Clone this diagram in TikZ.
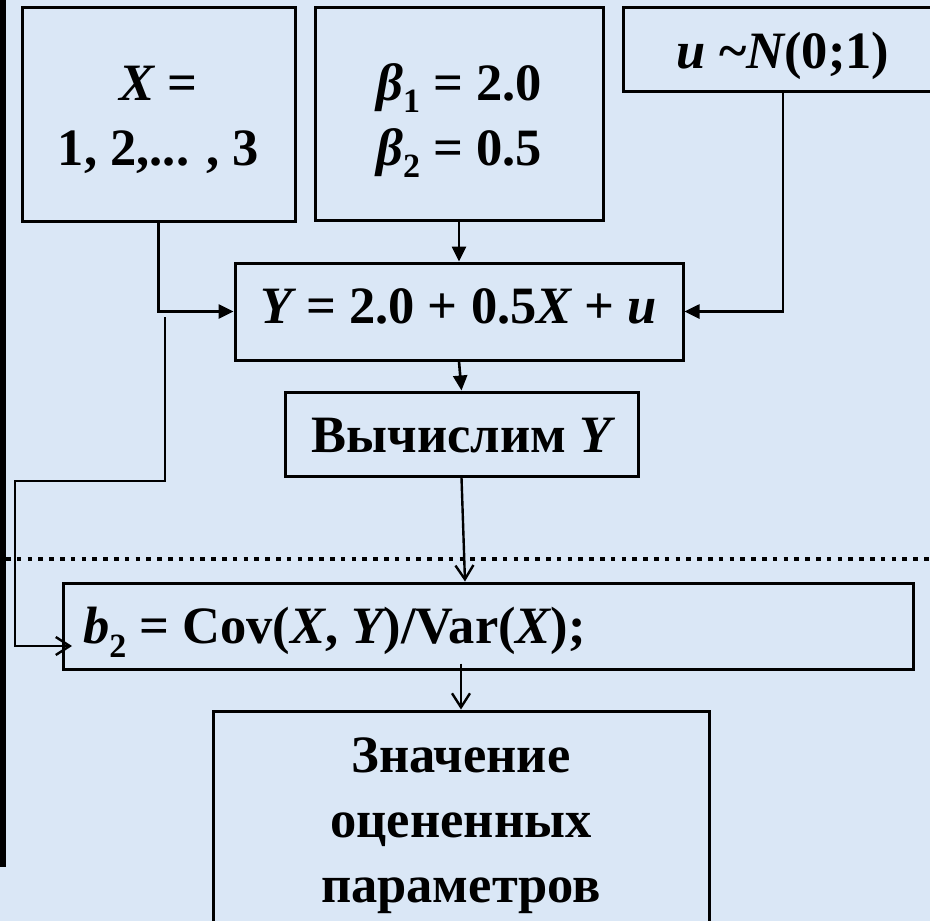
\documentclass[tikz,border=0pt]{standalone}
\usepackage{fontspec}
\setmainfont{Liberation Serif}
\usetikzlibrary{arrows.meta}
\definecolor{bgblue}{RGB}{218,231,246}
\newcommand\myit[1]{{\itshape #1}}
\newcommand\mysub[2][12pt]{\raisebox{-#1}{\fontsize{34}{34}\selectfont #2}}
\begin{document}
\begin{tikzpicture}[x=1pt,y=-1pt,
  font=\fontsize{52.5}{65}\selectfont\bfseries,
  box/.style={draw=black, line width=3pt, inner sep=0pt, text depth=0pt},
  arrF/.style={line width=2.6pt, -{Triangle[length=15pt,width=14pt]}},
  arrO/.style={line width=2.4pt, -{Straight Barb[length=14pt,width=18pt]}},
  dotline/.style={line width=4.5pt, dash pattern=on 4.5pt off 6.3pt}]
\useasboundingbox (0,0) rectangle (930,921);
\clip (0,0) rectangle (930,921);
\fill[bgblue] (0,0) rectangle (930,921);
\fill[black] (0,0) rectangle (6,867);

\node[box, minimum width=273pt, minimum height=214pt, text height=102pt] (xb) at (158.5,114)
  {\begin{tabular}[b]{@{}c@{}}\myit{X} =\\1, 2,... , 3\end{tabular}};
\node[box, minimum width=288pt, minimum height=213pt, text height=103pt] (bb) at (459,113.5)
  {\begin{tabular}[b]{@{}c@{}}\myit{β}\mysub{1} = 2.0\\\myit{β}\mysub{2} = 0.5\end{tabular}};
\node[box, minimum width=320pt, minimum height=84pt, text height=38pt] (ub) at (783,49)
  {\myit{u} \textasciitilde\myit{N}(0;1)};
\node[box, minimum width=448pt, minimum height=97pt, text height=23pt] (yb) at (459,311.5)
  {\myit{Y} = 2.0 + 0.5\myit{X} + \myit{u}};
\node[box, minimum width=353pt, minimum height=84pt, text height=36pt] (vb) at (461.5,434)
  {Вычислим \myit{Y}};
\node[box, minimum width=850pt, minimum height=86pt, text height=34pt] (b2) at (488,626)
  {\makebox[810pt][l]{\myit{b}\mysub[14pt]{2} = Cov(\myit{X}, \myit{Y})/Var(\myit{X});}};
\node[box, minimum width=496pt, minimum height=230pt, text height=152pt] (zb) at (461,826)
  {\begin{tabular}[b]{@{}c@{}}Значение\\оцененных\\параметров\end{tabular}};

\coordinate (ux) at (783,0);
\coordinate (vt) at (465,0);
\coordinate (f0) at (165,317);
\coordinate (f1) at (15,481);
\coordinate (f2) at (72,646);
\coordinate (d0) at (6,559);
\coordinate (d1) at (930,559);

\draw[dotline] (d0) -- (d1);
\draw[arrF] (xb.south) |- (yb.west);
\draw[arrF] (bb.south) -- (yb.north);
\draw[arrF] (ub.south -| ux) |- (yb.east);
\draw[arrF] (yb.south) -- (vb.north);
\draw[arrO] (vb.south) -- (b2.north -| vt);
\draw[arrO] ([yshift=7pt]b2.south -| zb.north) -- (zb.north);
\draw[arrO] (f0) |- (f1) |- (f2);
\end{tikzpicture}
\end{document}
